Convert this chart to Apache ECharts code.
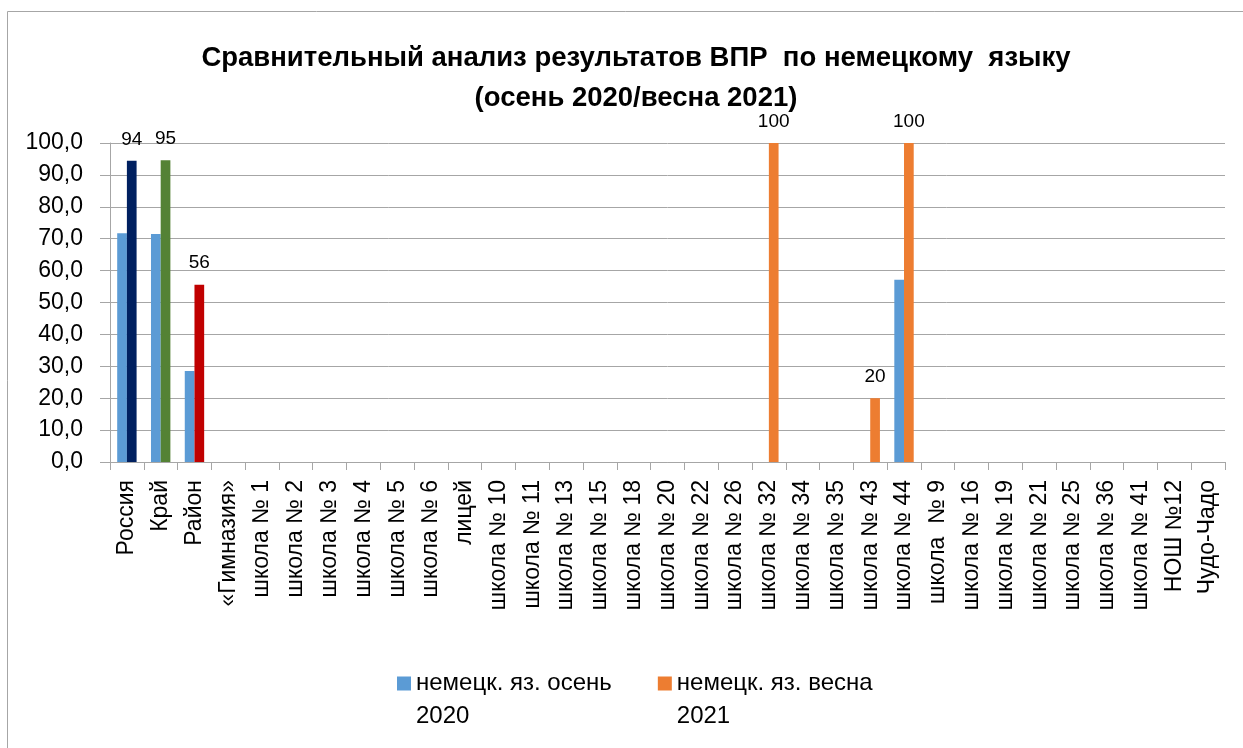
<!DOCTYPE html>
<html>
<head>
<meta charset="utf-8">
<script src="https://cdn.jsdelivr.net/npm/echarts@6/dist/echarts.min.js"></script>
<style>
  html, body { margin: 0; padding: 0; background: #fff; }
  #chart { width: 1243px; height: 748px; }
</style>
</head>
<body>
<div id="chart"></div>
<script>
// categories along the x axis
const categories = [
  'Россия', 'Край', 'Район', '«Гимназия»',
  'школа № 1', 'школа № 2', 'школа № 3', 'школа № 4', 'школа № 5', 'школа № 6',
  'лицей', 'школа № 10', 'школа № 11', 'школа № 13', 'школа № 15', 'школа № 18',
  'школа № 20', 'школа № 22', 'школа № 26', 'школа № 32', 'школа № 34', 'школа № 35',
  'школа № 43', 'школа № 44', 'школа  № 9', 'школа № 16', 'школа № 19', 'школа № 21',
  'школа № 25', 'школа № 36', 'школа № 41', 'НОШ №12', 'Чудо-Чадо'
];

// autumn 2020 results (blank where there is no bar)
const autumn2020 = [
  71.7, 71.5, 28.5, null, null, null, null, null, null, null,
  null, null, null, null, null, null, null, null, null, null,
  null, null, null, 57.1, null, null, null, null, null, null,
  null, null, null
];

// spring 2021 results
const spring2021 = [
  94.4, 94.6, 55.6, null, null, null, null, null, null, null,
  null, null, null, null, null, null, null, null, null, 100,
  null, null, 20, 100, null, null, null, null, null, null,
  null, null, null
];

const seriesNames = ['немецк. яз. осень 2020', 'немецк. яз. весна 2021'];
const legendText = ['немецк. яз. осень\n2020', 'немецк. яз. весна\n2021'];
const yTicks = { min: 0, max: 100, step: 10 };

const blue = '#5B9BD5';
const orange = '#ED7D31';
// Россия / Край / Район bars of the spring series have their own colours
const regionColors = ['#002060', '#548235', '#C00000'];
const gridColor = '#a6a6a6';
const font = 'Liberation Sans';

const chart = echarts.init(document.getElementById('chart'));

const springData = spring2021.map((v, i) =>
  i < regionColors.length ? { value: v, itemStyle: { color: regionColors[i] } } : v
);

chart.setOption({
  animation: false,
  backgroundColor: '#fff',
  textStyle: { fontFamily: font },
  title: {
    text: 'Сравнительный анализ результатов ВПР  по немецкому  языку\n(осень 2020/весна 2021)',
    left: 631,
    top: 33,
    textAlign: 'center',
    textStyle: {
      fontFamily: font,
      fontWeight: 'bold',
      fontSize: 27.5,
      lineHeight: 40,
      color: '#000'
    }
  },
  graphic: [{
    type: 'rect',
    shape: { x: 7.5, y: 11.5, width: 1300, height: 800 },
    style: { fill: null, stroke: gridColor, lineWidth: 1 },
    silent: true
  }],
  legend: {
    left: 392,
    top: 629,
    itemWidth: 14,
    itemHeight: 14,
    itemGap: 46,
    icon: 'rect',
    data: [
      { name: seriesNames[0], itemStyle: { color: blue } },
      { name: seriesNames[1], itemStyle: { color: orange } }
    ],
    formatter: name => '\n' + legendText[seriesNames.indexOf(name)],
    textStyle: { fontFamily: font, fontSize: 24, lineHeight: 33, color: '#000' }
  },
  grid: { left: 110, right: 18, top: 143, bottom: 286, containLabel: false },
  xAxis: {
    type: 'category',
    data: categories,
    axisLine: { lineStyle: { color: gridColor } },
    axisTick: { show: true, length: 8, lineStyle: { color: gridColor } },
    axisLabel: {
      interval: 0,
      rotate: 90,
      margin: 18,
      fontFamily: font,
      fontSize: 23,
      color: '#000'
    }
  },
  yAxis: {
    type: 'value',
    min: yTicks.min,
    max: yTicks.max,
    interval: yTicks.step,
    axisLine: { show: true, lineStyle: { color: gridColor } },
    axisTick: { show: true, length: 10, lineStyle: { color: gridColor } },
    splitLine: { lineStyle: { color: gridColor } },
    axisLabel: {
      margin: 27,
      fontFamily: font,
      fontSize: 23,
      color: '#000',
      formatter: v => v.toFixed(1).replace('.', ',')
    }
  },
  series: [
    {
      name: seriesNames[0],
      type: 'bar',
      data: autumn2020,
      barWidth: 9.7,
      barGap: '0%',
      itemStyle: { color: blue }
    },
    {
      name: seriesNames[1],
      type: 'bar',
      data: springData,
      barWidth: 9.7,
      barGap: '0%',
      itemStyle: { color: orange },
      label: {
        show: true,
        position: 'top',
        distance: 12,
        fontFamily: font,
        fontSize: 19,
        color: '#000',
        formatter: p => Math.round(p.value)
      }
    }
  ]
});
</script>
</body>
</html>
